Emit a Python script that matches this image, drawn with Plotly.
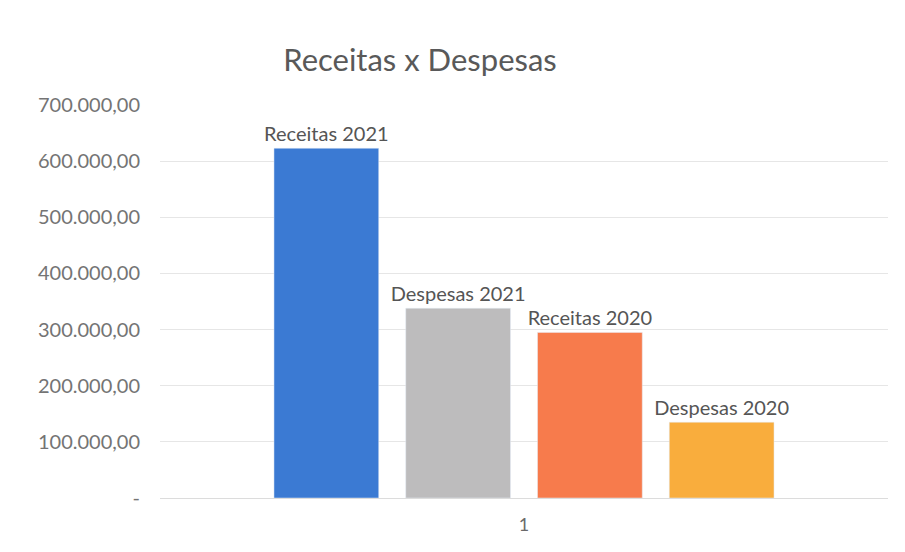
import plotly.graph_objects as go

categories = ["1"]
series_names = ["Receitas 2021", "Despesas 2021", "Receitas 2020", "Despesas 2020"]
series_values = [623000, 338000, 295000, 135000]
colors = ["#3b7ad3", "#bdbcbd", "#f77b4c", "#f9ad3d"]
tick_vals = [0, 100000, 200000, 300000, 400000, 500000, 600000, 700000]
tick_text = ["-", "100.000,00", "200.000,00", "300.000,00", "400.000,00",
             "500.000,00", "600.000,00", "700.000,00"]

FONT = "Lato, 'Open Sans', sans-serif"

fig = go.Figure()
for name, val, col in zip(series_names, series_values, colors):
    fig.add_trace(go.Bar(
        x=categories, y=[val], name=name, marker_color=col,
        text=[name], textposition="outside", cliponaxis=False,
        constraintext="none",
        textfont=dict(family=FONT, size=20, color="#555555"),
    ))

fig.update_layout(
    width=905, height=552,
    paper_bgcolor="white", plot_bgcolor="white",
    barmode="group", bargap=0.276, bargroupgap=0.205,
    showlegend=False,
    margin=dict(l=152, r=25, t=97, b=62),
    title=dict(text="Receitas x Despesas", x=412/905, xanchor="center",
               y=1-52/552, yanchor="middle", xref="container", yref="container",
               font=dict(family=FONT, size=31, color="#595959")),
    font=dict(family=FONT, color="#595959"),
    yaxis=dict(range=[0, 700000], tickvals=tick_vals, ticktext=tick_text,
               showgrid=True, gridcolor="#e6e6e6", gridwidth=1,
               zeroline=True, zerolinecolor="#dcdcdc", zerolinewidth=1,
               ticks="", ticklabelstandoff=19,
               tickfont=dict(family=FONT, size=20, color="#747474")),
    xaxis=dict(showline=False, ticks="", ticklabelstandoff=14,
               tickfont=dict(family=FONT, size=18, color="#6a6a6a")),
)

fig.write_html("out.html")
